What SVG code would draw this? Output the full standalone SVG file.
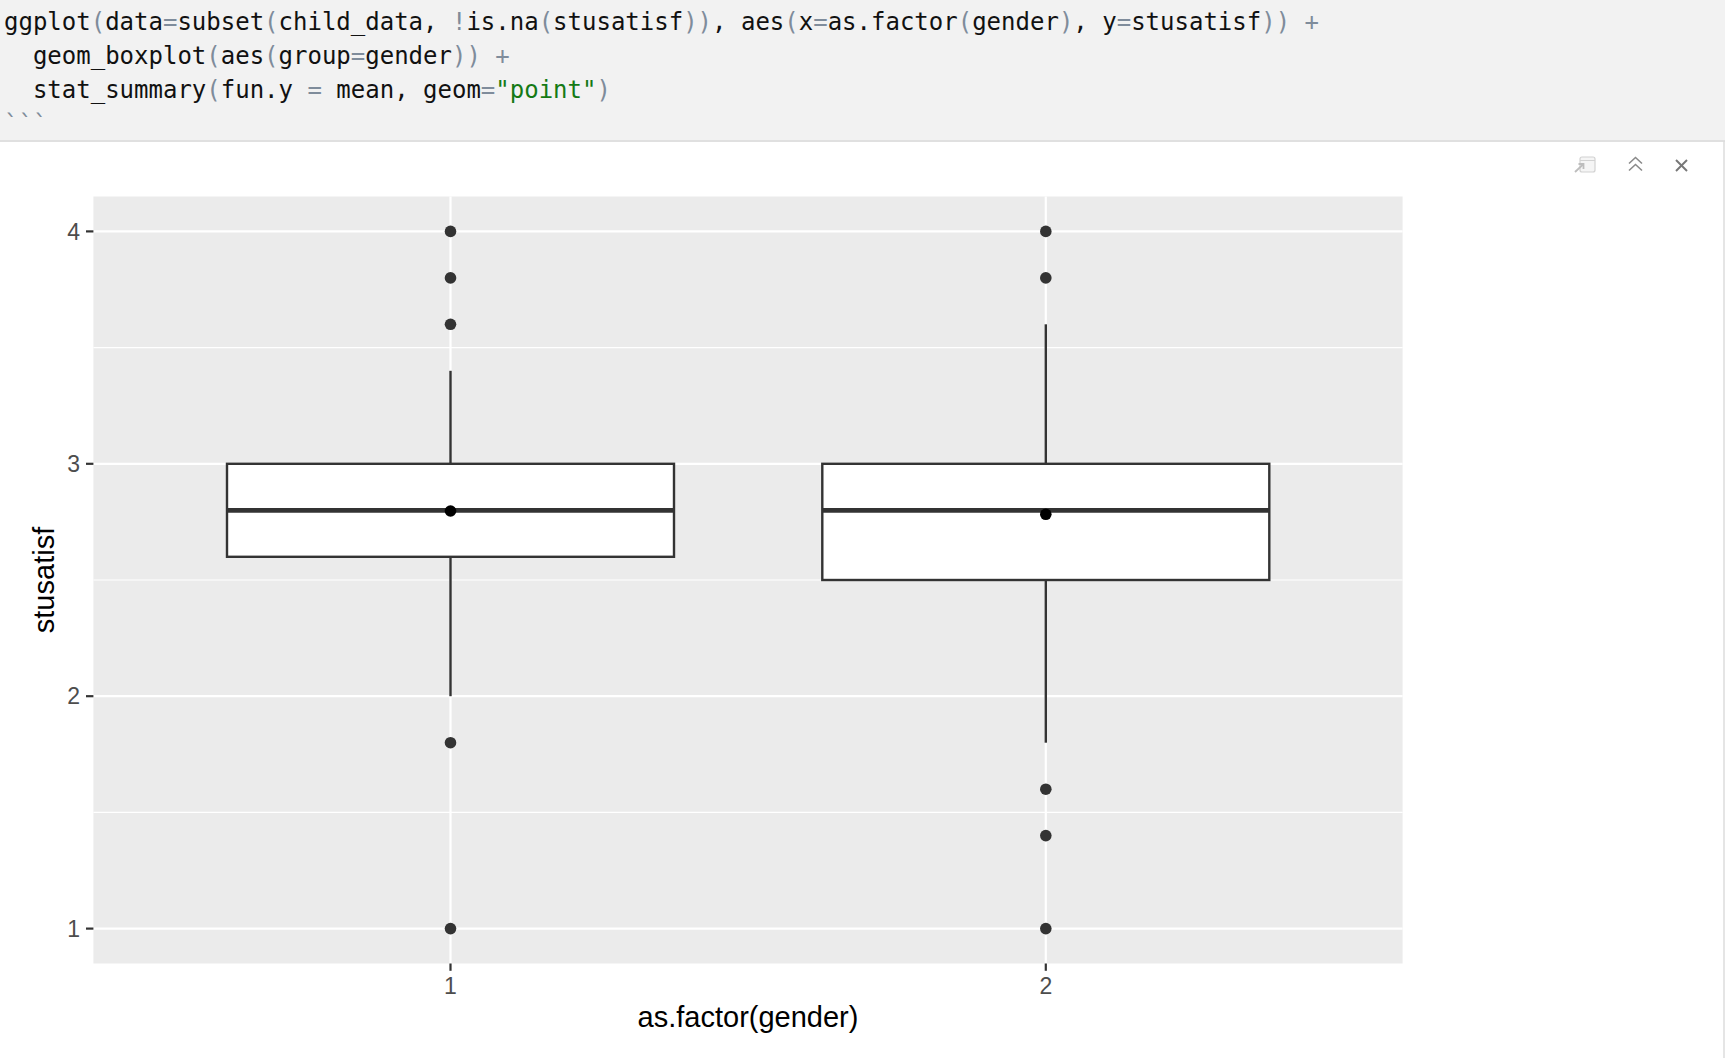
<svg xmlns="http://www.w3.org/2000/svg" width="1730" height="1058" viewBox="0 0 1730 1058">
<defs>
<style>
.code{font-family:"DejaVu Sans Mono","Liberation Mono",monospace;font-size:24px;fill:#111111;white-space:pre}
.p{fill:#7f8c9b}
.s{fill:#157a15}
.grid-major{stroke:#ffffff;stroke-width:2.2;fill:none}
.grid-minor{stroke:#ffffff;stroke-width:1.1;fill:none}
.tick{stroke:#333333;stroke-width:2.2}
.ticklab{font-family:"Liberation Sans",Arial,sans-serif;font-size:23px;fill:#4d4d4d}
.title{font-family:"Liberation Sans",Arial,sans-serif;font-size:29px;fill:#000000}
.box{fill:#ffffff;stroke:#333333;stroke-width:2.4}
.med{stroke:#333333;stroke-width:4.8}
.whisk{stroke:#333333;stroke-width:2.4}
.out{fill:#333333}
.mean{fill:#000000}
</style>
</defs>
<rect x="0" y="0" width="1730" height="1058" fill="#ffffff"/>
<g id="code-block">
<rect x="0" y="0" width="1725" height="140" fill="#f2f2f2"/>
<line x1="0" y1="141" x2="1725" y2="141" stroke="#e0e0e0" stroke-width="2"/>
<line x1="1724" y1="141" x2="1724" y2="1058" stroke="#dcdcdc" stroke-width="1.5"/>
<text class="code" x="4" y="29.5">ggplot<tspan class="p">(</tspan>data<tspan class="p">=</tspan>subset<tspan class="p">(</tspan>child_data, <tspan class="p">!</tspan>is.na<tspan class="p">(</tspan>stusatisf<tspan class="p">))</tspan>, aes<tspan class="p">(</tspan>x<tspan class="p">=</tspan>as.factor<tspan class="p">(</tspan>gender<tspan class="p">)</tspan>, y<tspan class="p">=</tspan>stusatisf<tspan class="p">)) +</tspan></text>
<text class="code" x="4" y="63.5">  geom_boxplot<tspan class="p">(</tspan>aes<tspan class="p">(</tspan>group<tspan class="p">=</tspan>gender<tspan class="p">)) +</tspan></text>
<text class="code" x="4" y="97.5">  stat_summary<tspan class="p">(</tspan>fun.y <tspan class="p">=</tspan> mean, geom<tspan class="p">=</tspan><tspan class="s">"point"</tspan><tspan class="p">)</tspan></text>
<text class="code" x="4" y="131.5"><tspan class="p">```</tspan></text>
</g>
<g id="toolbar-icons">
<g id="icon-popout">
<rect x="1580" y="157" width="15" height="15" rx="2" fill="#f5f5f5" stroke="#d2d2d2" stroke-width="1.2"/>
<line x1="1580" y1="160.5" x2="1595" y2="160.5" stroke="#d2d2d2" stroke-width="1"/>
<line x1="1575" y1="172" x2="1583" y2="164.5" stroke="#bdbdbd" stroke-width="1.8"/>
<polyline points="1578.5,164 1583.5,164 1583.5,169" fill="none" stroke="#bdbdbd" stroke-width="1.8"/>
</g>
<g id="icon-collapse" fill="none" stroke="#8a8a8a" stroke-width="1.6">
<polyline points="1629,163.5 1635.5,157.5 1642,163.5"/>
<polyline points="1629,170.5 1635.5,164.5 1642,170.5"/>
</g>
<g id="icon-close" stroke="#777777" stroke-width="1.9">
<line x1="1676" y1="160" x2="1687" y2="171"/>
<line x1="1687" y1="160" x2="1676" y2="171"/>
</g>
</g>
<g id="panel">
<rect x="93.4" y="196.5" width="1309.2" height="767" fill="#ebebeb"/>
<g id="minor-grid">
<line class="grid-minor" x1="93.4" y1="347.6" x2="1402.6" y2="347.6"/>
<line class="grid-minor" x1="93.4" y1="580.0" x2="1402.6" y2="580.0"/>
<line class="grid-minor" x1="93.4" y1="812.4" x2="1402.6" y2="812.4"/>
</g>
<g id="major-grid">
<line class="grid-major" x1="93.4" y1="231.4" x2="1402.6" y2="231.4"/>
<line class="grid-major" x1="93.4" y1="463.8" x2="1402.6" y2="463.8"/>
<line class="grid-major" x1="93.4" y1="696.2" x2="1402.6" y2="696.2"/>
<line class="grid-major" x1="93.4" y1="928.6" x2="1402.6" y2="928.6"/>
<line class="grid-major" x1="450.5" y1="196.5" x2="450.5" y2="963.5"/>
<line class="grid-major" x1="1045.8" y1="196.5" x2="1045.8" y2="963.5"/>
</g>
</g>
<g id="connectors">
<line class="whisk" x1="450.5" y1="370.8" x2="450.5" y2="463.8"/>
<line class="whisk" x1="450.5" y1="556.8" x2="450.5" y2="696.2"/>
<line class="whisk" x1="1045.8" y1="324.3" x2="1045.8" y2="463.8"/>
<line class="whisk" x1="1045.8" y1="580.0" x2="1045.8" y2="742.7"/>
</g>
<g id="box-1">
<rect class="box" x="227" y="463.8" width="447" height="93"/>
<line class="med" x1="227" y1="510.3" x2="674" y2="510.3"/>
<circle class="out" cx="450.5" cy="231.4" r="5.8"/>
<circle class="out" cx="450.5" cy="277.9" r="5.8"/>
<circle class="out" cx="450.5" cy="324.3" r="5.8"/>
<circle class="out" cx="450.5" cy="742.7" r="5.8"/>
<circle class="out" cx="450.5" cy="928.6" r="5.8"/>
<circle class="mean" cx="450.5" cy="511" r="5.8"/>
</g>
<g id="box-2">
<rect class="box" x="822.3" y="463.8" width="447" height="116.2"/>
<line class="med" x1="822.3" y1="510.3" x2="1269.3" y2="510.3"/>
<circle class="out" cx="1045.8" cy="231.4" r="5.8"/>
<circle class="out" cx="1045.8" cy="277.9" r="5.8"/>
<circle class="out" cx="1045.8" cy="789.2" r="5.8"/>
<circle class="out" cx="1045.8" cy="835.6" r="5.8"/>
<circle class="out" cx="1045.8" cy="928.6" r="5.8"/>
<circle class="mean" cx="1045.8" cy="514.3" r="5.8"/>
</g>
<g id="y-axis">
<line class="tick" x1="86" y1="231.4" x2="93.4" y2="231.4"/>
<line class="tick" x1="86" y1="463.8" x2="93.4" y2="463.8"/>
<line class="tick" x1="86" y1="696.2" x2="93.4" y2="696.2"/>
<line class="tick" x1="86" y1="928.6" x2="93.4" y2="928.6"/>
<text class="ticklab" x="80" y="239.6" text-anchor="end">4</text>
<text class="ticklab" x="80" y="472" text-anchor="end">3</text>
<text class="ticklab" x="80" y="704.4" text-anchor="end">2</text>
<text class="ticklab" x="80" y="936.8" text-anchor="end">1</text>
<text class="title" transform="translate(53.5,580) rotate(-90)" text-anchor="middle">stusatisf</text>
</g>
<g id="x-axis">
<line class="tick" x1="450.5" y1="963.5" x2="450.5" y2="970.8"/>
<line class="tick" x1="1045.8" y1="963.5" x2="1045.8" y2="970.8"/>
<text class="ticklab" x="450.5" y="994" text-anchor="middle">1</text>
<text class="ticklab" x="1045.8" y="994" text-anchor="middle">2</text>
<text class="title" x="748" y="1027" text-anchor="middle">as.factor(gender)</text>
</g>
</svg>
